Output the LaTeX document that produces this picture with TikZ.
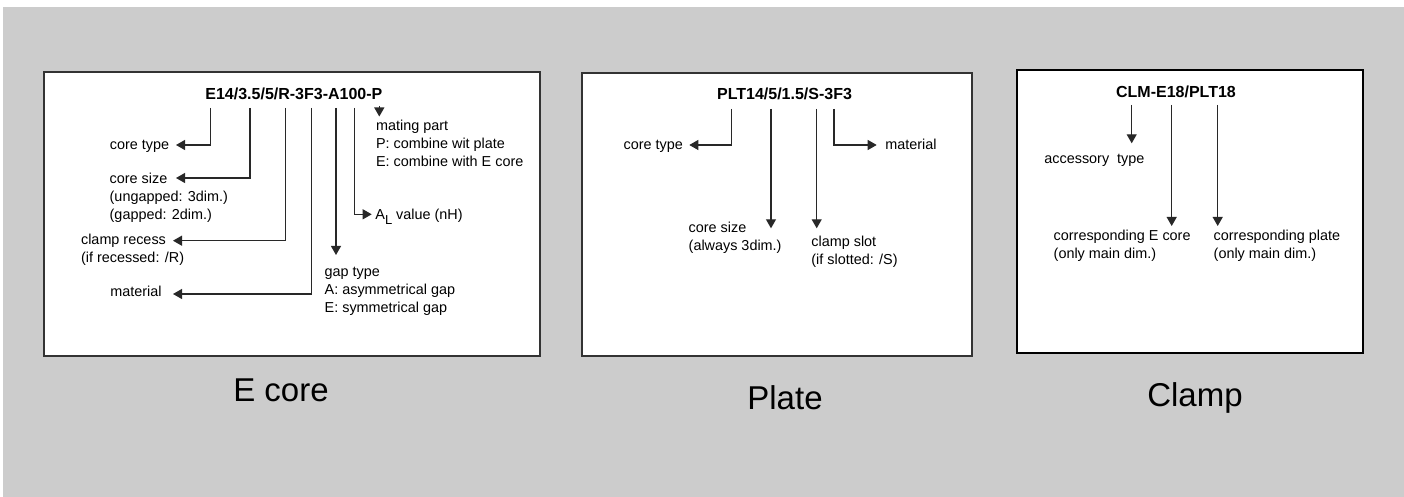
\documentclass[tikz,border=0pt]{standalone}
\usepackage{fontspec}
\setmainfont{Liberation Sans}
\usetikzlibrary{arrows.meta}
\definecolor{sheet}{RGB}{204,204,204}
\definecolor{frame}{RGB}{51,51,51}
\definecolor{leadline}{RGB}{40,40,40}

\begin{document}
\begin{tikzpicture}[x=0.5pt,y=-0.5pt,
  % multi-line labels are anchored at the baseline of their last line
  lbl/.style={anchor=base west,inner sep=0pt,align=left,
    font=\fontsize{7.2}{9}\selectfont},
  code/.style={anchor=base west,inner sep=0pt,
    font=\bfseries\fontsize{8}{9}\selectfont},
  caption/.style={anchor=base,inner sep=0pt,font=\fontsize{16.5}{18}\selectfont},
  panel/.style={draw=frame,line width=0.8pt,fill=white},
  lead/.style={draw=leadline,line width=0.55pt,
    -{Triangle[length=4.5pt,width=5pt]}},
]
% page and grey sheet
\path[use as bounding box,fill=white] (0,0) rectangle (1404,497);
\fill[sheet] (3,7) rectangle (1404,497);

% panels
\draw[panel] (44,72) rectangle (540,356);
\draw[panel] (582,73) rectangle (972,356);
\draw[panel,draw=black,line width=1pt] (1017,70) rectangle (1363,353);

% ---------- E core ----------
\node[code] (ecode) at (205,99.3) {E14/3.5/5/R-3F3-A100-P};
\coordinate (e1) at (210.5,108);
\coordinate (e2) at (250,108);
\coordinate (e3) at (285.5,108);
\coordinate (e4) at (311.7,108);
\coordinate (e5) at (336,108);
\coordinate (e6) at (354.3,108);
\coordinate (e7) at (379.3,106);
\coordinate (e1t) at (176,145);
\coordinate (e2t) at (176,178);
\coordinate (e3t) at (173,240.7);
\coordinate (e4t) at (173,294);
\coordinate (e5t) at (336,255);
\coordinate (e6t) at (371.7,214.3);
\coordinate (e7t) at (379.3,116.5);

\node[lbl] (ectype) at (109.5,150) {core type};
\node[lbl] (ecsize) at (109.3,220) {core size\\(ungapped: 3dim.)\\(gapped: 2dim.)};
\node[lbl] (ecrec) at (80.7,263) {clamp recess\\(if recessed: /R)};
\node[lbl] (ecmat) at (110,296.7) {material};
\node[lbl] (ecgap) at (324.3,312.7) {gap type\\A: asymmetrical gap\\E: symmetrical gap};
\node[lbl] (ecal) at (375,219.3) {A\raisebox{-2.6pt}{\fontsize{6.5}{7}\selectfont L} value (nH)};
\node[lbl] (ecmate) at (375.7,166.7) {mating part\\P: combine wit plate\\E: combine with E core};

\draw[lead] (e1) |- (e1t);
\draw[lead] (e2) |- (e2t);
\draw[lead] (e3) |- (e3t);
\draw[lead] (e4) |- (e4t);
\draw[lead] (e5) -- (e5t);
\draw[lead] (e6) |- (e6t);
\draw[lead] (e7) -- (e7t);

% ---------- Plate ----------
\node[code] (pcode) at (716.7,99.3) {PLT14/5/1.5/S-3F3};
\coordinate (p1) at (731.7,109);
\coordinate (p2) at (771,109);
\coordinate (p3) at (816.7,109);
\coordinate (p4) at (834,109);
\coordinate (p1t) at (689.3,145);
\coordinate (p2t) at (771,228.3);
\coordinate (p3t) at (816.7,228.3);
\coordinate (p4t) at (876.7,145);

\node[lbl] (pltype) at (623.3,150) {core type};
\node[lbl] (plsize) at (688.3,250.7) {core size\\(always 3dim.)};
\node[lbl] (plslot) at (811,265) {clamp slot\\(if slotted: /S)};
\node[lbl] (plmat) at (885,150) {material};

\draw[lead] (p1) |- (p1t);
\draw[lead] (p2) -- (p2t);
\draw[lead] (p3) -- (p3t);
\draw[lead] (p4) |- (p4t);

% ---------- Clamp ----------
\node[code] (ccode) at (1115.7,97.3) {CLM-E18/PLT18};
\coordinate (c1) at (1131.7,105);
\coordinate (c2) at (1171.7,105);
\coordinate (c3) at (1217.7,105);
\coordinate (c1t) at (1131.7,143.3);
\coordinate (c2t) at (1171.7,226);
\coordinate (c3t) at (1217.7,226);

\node[lbl] (clacc) at (1044,164) {accessory\ \ type};
\node[lbl] (clecore) at (1053.3,259) {corresponding E core\\(only main dim.)};
\node[lbl] (clplate) at (1213.3,259) {corresponding plate\\(only main dim.)};

\draw[lead] (c1) -- (c1t);
\draw[lead] (c2) -- (c2t);
\draw[lead] (c3) -- (c3t);

% ---------- captions ----------
\node[caption] (capE) at (281,401) {E core};
\node[caption] (capP) at (785,409) {Plate};
\node[caption] (capC) at (1195,407) {Clamp};
\end{tikzpicture}
\end{document}
